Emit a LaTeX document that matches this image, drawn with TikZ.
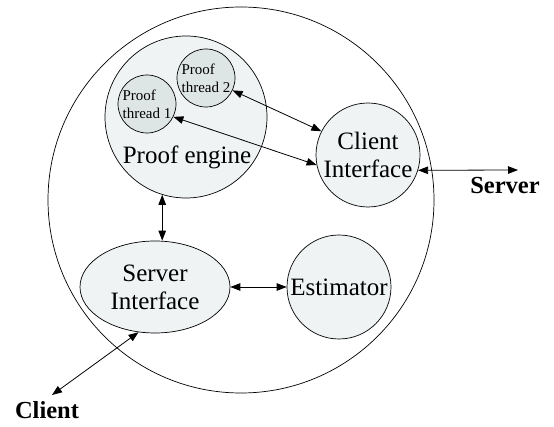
\documentclass[tikz,border=0pt]{standalone}
\usepackage{fontspec}
\setmainfont{Liberation Serif}
\usetikzlibrary{arrows.meta,shapes.geometric}
\definecolor{enginefill}{RGB}{239,243,243}
\definecolor{threadfill}{RGB}{222,229,229}

\begin{document}
\begin{tikzpicture}[x=1pt,y=-1pt,line width=0.7pt,
	blob/.style={draw, circle, fill=enginefill, inner sep=0pt, align=center, font=\fontsize{25}{28}\selectfont},
	thread/.style={draw, circle, fill=threadfill, inner sep=0pt, minimum size=58pt, align=left, font=\fontsize{15}{18}\selectfont},
	link/.style={{Triangle[length=10pt,width=7.5pt]}-{Triangle[length=10pt,width=7.5pt]}, line width=0.8pt},
	tag/.style={font=\bfseries\fontsize{24.5}{28}\selectfont}]
	\useasboundingbox (0,0) rectangle (554,427);
			\node	(sys) at (241,200) [draw, circle, minimum size=386pt] {};
			\node	(pe) at (186,117) [blob, minimum size=162pt] {};
			\node	(petext) at (187,157) [font=\fontsize{25}{28}\selectfont] {Proof engine};
			\node	(t1) at (147,104) [thread] {Proof\\thread 1};
			\node	(t2) at (206,78) [thread] {Proof\\thread 2};
			\node	(ci) at (368,155) [blob, minimum size=104pt] {Client\\Interface};
			\node	(si) at (155,287) [blob, ellipse, minimum width=150pt, minimum height=92pt] {Server\\Interface};
			\node	(est) at (339,287) [blob, minimum size=104pt] {Estimator};
			\node	(server) at (505,186) [tag] {Server};
			\node	(client) at (47,410) [tag] {Client};
			\coordinate (sv) at (518,170);
			\coordinate (cl) at (52,395);
			
			\draw 
			(t2.-25) edge[link] (ci.153)
			(t1.-26) edge[link] (ci.191)
			(ci.-17) edge[link] (sv)
			(pe.-107) edge[link] (pe.-107 |- si.north)
			(si.east) edge[link] (est.west)
			(si.-110) edge[link] (cl)
			;
		\end{tikzpicture}
\end{document}
